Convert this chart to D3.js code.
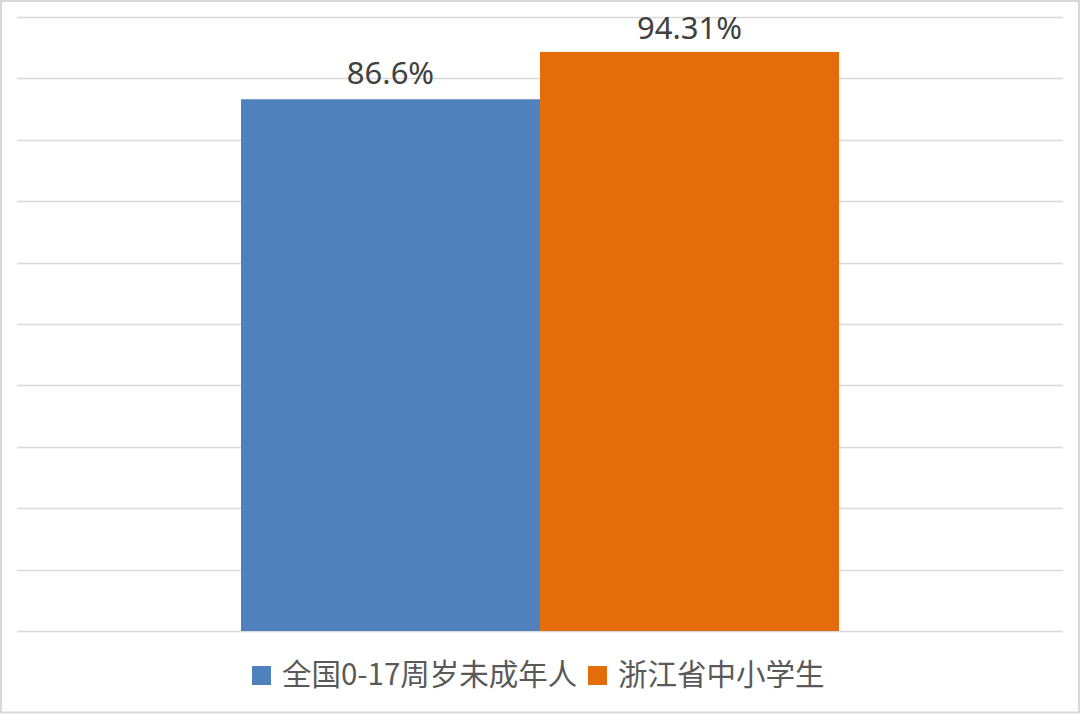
<!DOCTYPE html>
<html><head><meta charset="utf-8">
<script src="https://cdn.jsdelivr.net/npm/d3@7"></script>
<style>body{margin:0;background:#fff}svg{display:block}</style>
</head><body>
<svg id="c" width="1080" height="714"></svg>
<script>
const categories = ["全国0-17周岁未成年人", "浙江省中小学生"];
const values = [86.6, 94.31];
const labels = ["86.6%", "94.31%"];
const colors = ["#4F81BD", "#E46C0A"];
const yTicks = [0,10,20,30,40,50,60,70,80,90,100];

(function(){
const svg = d3.select("#c");
const W = 1080, H = 714;
const font = "'Noto Sans CJK SC','Noto Sans',sans-serif";
svg.append("rect").attr("x",1).attr("y",1).attr("width",W-2).attr("height",H-2.5)
  .attr("fill","#fff").attr("stroke","#d9d9d9").attr("stroke-width",2);

const pL = 17, pR = 1063, pT = 17, pB = 631;
const y = d3.scaleLinear().domain([0,100]).range([pB, pT]);
const x = d3.scaleBand().domain(categories).range([241, 839]);

svg.append("g").selectAll("line").data(yTicks).join("line")
  .attr("x1",pL).attr("x2",pR)
  .attr("y1",d=>Math.round(y(d))+0.5).attr("y2",d=>Math.round(y(d))+0.5)
  .attr("stroke","#d9d9d9").attr("stroke-width",1.3);

svg.append("g").selectAll("rect").data(values).join("rect")
  .attr("x",(d,i)=>x(categories[i])).attr("width",x.bandwidth())
  .attr("y",d=>y(d)).attr("height",d=>pB-y(d))
  .attr("fill",(d,i)=>colors[i]);

svg.append("g").selectAll("text").data(values).join("text")
  .attr("x",(d,i)=>x(categories[i])+x.bandwidth()/2)
  .attr("y",d=>Math.max(y(d)-15, 38.5))
  .attr("text-anchor","middle").attr("font-family","'Noto Sans',sans-serif").attr("font-size",31)
  .attr("fill","#404040").text((d,i)=>labels[i]);

const legendX = [252, 588];
const lg = svg.append("g");
categories.forEach((c,i)=>{
  lg.append("rect").attr("x",legendX[i]).attr("y",666).attr("width",19).attr("height",19).attr("fill",colors[i]);
  lg.append("text").attr("x",legendX[i]+30).attr("y",685).attr("font-family",font)
    .attr("font-size",29.5).attr("fill","#595959").text(c);
});
})();
</script>
</body></html>
